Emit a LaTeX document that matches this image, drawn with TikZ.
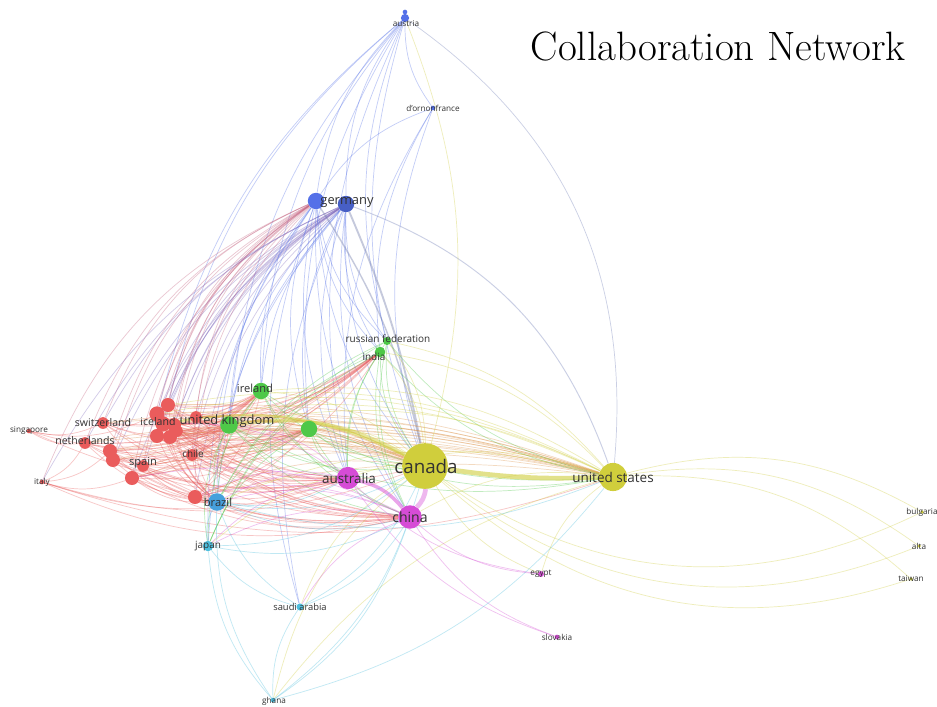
\documentclass[tikz,border=0pt]{standalone}
\usepackage{fontspec}
\setsansfont{Open Sans}
\usetikzlibrary{positioning}

\definecolor{redc}{RGB}{234,92,92}
\definecolor{greenc}{RGB}{78,200,72}
\definecolor{bluec}{RGB}{84,112,232}
\definecolor{yelc}{RGB}{208,206,60}
\definecolor{magc}{RGB}{214,76,214}
\definecolor{cyanc}{RGB}{76,190,222}
\definecolor{brazc}{RGB}{70,160,220}
\definecolor{labelgray}{RGB}{50,50,50}

\pgfdeclarelayer{edges}
\pgfsetlayers{edges,main}

\tikzset{
  country/.style={circle, inner sep=0pt, draw=none},
  cname/.style={font=\sffamily\fontsize{9}{10}\selectfont, text=labelgray, inner sep=0pt},
  bigname/.style={cname, font=\sffamily\fontsize{11.5}{13}\selectfont},
  tinyname/.style={cname, font=\sffamily\fontsize{7}{8}\selectfont},
  link/.style={line width=0.6pt, opacity=0.35, bend right=18},
}

\begin{document}
\begin{tikzpicture}[x=0.03cm, y=-0.03cm]
	\useasboundingbox (0,0) rectangle (937,706);
	\node (title) at (718,46) {\fontsize{35}{40}\selectfont Collaboration Network};

	% blue cluster
	\node (austria) [country, fill=bluec, minimum size=7] at (405,18) {};
	\node (austriab) [country, fill=bluec, minimum size=4] at (405,12) {};
	\node (dornon) [country, fill=bluec, minimum size=4] at (433,108) {};
	\node (gera) [country, fill=bluec, minimum size=14] at (316,201) {};
	\node (gerb) [country, fill=bluec!85!black, minimum size=14] at (346,204) {};
	% green cluster
	\node (russia) [country, fill=greenc, minimum size=7] at (387,341) {};
	\node (india) [country, fill=greenc, minimum size=9] at (380,352) {};
	\node (ireland) [country, fill=greenc, minimum size=14] at (261,391) {};
	\node (uk) [country, fill=greenc, minimum size=15] at (229,425) {};
	\node (greenx) [country, fill=greenc, minimum size=14] at (309,429) {};
	% red cluster
	\node (ra) [country, fill=redc, minimum size=12] at (168,405) {};
	\node (rb) [country, fill=redc, minimum size=13] at (157,414) {};
	\node (rc) [country, fill=redc, minimum size=13] at (163,424) {};
	\node (rd) [country, fill=redc, minimum size=12] at (174,425) {};
	\node (re) [country, fill=redc, minimum size=12] at (157,436) {};
	\node (rf) [country, fill=redc, minimum size=12] at (170,437) {};
	\node (rg) [country, fill=redc, minimum size=10] at (177,431) {};
	\node (rh) [country, fill=redc, minimum size=10] at (196,417) {};
	\node (switz) [country, fill=redc, minimum size=10] at (103,423) {};
	\node (neth) [country, fill=redc, minimum size=10] at (85,443) {};
	\node (ri) [country, fill=redc, minimum size=12] at (110,451) {};
	\node (rj) [country, fill=redc, minimum size=12] at (113,460) {};
	\node (spain) [country, fill=redc, minimum size=10] at (143,466) {};
	\node (rk) [country, fill=redc, minimum size=12] at (132,478) {};
	\node (chile) [country, fill=redc, minimum size=10] at (192,455) {};
	\node (rl) [country, fill=redc, minimum size=12] at (195,497) {};
	\node (italy) [country, fill=redc, minimum size=4] at (42,482) {};
	\node (singapore) [country, fill=redc, minimum size=4] at (29,431) {};
	% cyan cluster
	\node (brazil) [country, fill=brazc, minimum size=15] at (217,502) {};
	\node (japan) [country, fill=cyanc, minimum size=9] at (208,546) {};
	\node (saudi) [country, fill=cyanc, minimum size=6] at (300,607) {};
	\node (ghana) [country, fill=cyanc, minimum size=4] at (273,700) {};
	% magenta cluster
	\node (australia) [country, fill=magc, minimum size=19] at (348,478) {};
	\node (china) [country, fill=magc, minimum size=20] at (410,517) {};
	\node (egypt) [country, fill=magc, minimum size=5] at (541,574) {};
	\node (slovakia) [country, fill=magc, minimum size=4] at (557,637) {};
	% yellow cluster
	\node (canada) [country, fill=yelc, minimum size=39] at (425,466) {};
	\node (usa) [country, fill=yelc, minimum size=24] at (613,477) {};
	\node (bulgaria) [country, fill=yelc, minimum size=3] at (922,512) {};
	\node (alta) [country, fill=yelc, minimum size=3] at (919,546) {};
	\node (taiwan) [country, fill=yelc, minimum size=3] at (911,579) {};

	% labels
	\node (austrialbl) [tinyname] at (406,24) {austria};
	\node (dornonlbl) [tinyname] at (433,108) {d'ornonfrance};
	\node (germanylbl) [bigname, font=\sffamily\fontsize{11}{12}\selectfont] at (347,203) {germany};
	\node (russialbl) [cname, font=\sffamily\fontsize{8.5}{9}\selectfont] at (388,339) {russian federation};
	\node (indialbl) [cname, font=\sffamily\fontsize{8.5}{9}\selectfont] at (374,357) {india};
	\node (irelandlbl) [cname, font=\sffamily\fontsize{9.5}{10}\selectfont] at (255,388) {ireland};
	\node (uklbl) [bigname, font=\sffamily\fontsize{11}{12}\selectfont] at (227,421) {united kingdom};
	\node (icelandlbl) [cname] at (158,422) {iceland};
	\node (switzlbl) [cname] at (103,423) {switzerland};
	\node (nethlbl) [cname] at (85,441) {netherlands};
	\node (spainlbl) [cname, font=\sffamily\fontsize{9.5}{10}\selectfont] at (143,463) {spain};
	\node (chilelbl) [cname, font=\sffamily\fontsize{8.5}{9}\selectfont] at (193,454) {chile};
	\node (italylbl) [tinyname] at (42,482) {italy};
	\node (singaporelbl) [tinyname] at (29,430) {singapore};
	\node (brazillbl) [cname, font=\sffamily\fontsize{9.5}{10}\selectfont] at (218,502) {brazil};
	\node (japanlbl) [cname, font=\sffamily\fontsize{8.5}{9}\selectfont] at (208,546) {japan};
	\node (saudilbl) [cname, font=\sffamily\fontsize{8}{9}\selectfont] at (300,607) {saudi arabia};
	\node (ghanalbl) [tinyname] at (274,701) {ghana};
	\node (australialbl) [bigname] at (349,478) {australia};
	\node (chinalbl) [bigname, font=\sffamily\fontsize{12}{13}\selectfont] at (410,517) {china};
	\node (egyptlbl) [tinyname] at (541,574) {egypt};
	\node (slovakialbl) [tinyname] at (557,637) {slovakia};
	\node (canadalbl) [cname, font=\sffamily\fontsize{16}{18}\selectfont] at (426,466) {canada};
	\node (usalbl) [bigname] at (613,477) {united states};
	\node (bulgarialbl) [tinyname] at (922,512) {bulgaria};
	\node (altalbl) [tinyname] at (919,546) {alta};
	\node (taiwanlbl) [tinyname] at (911,579) {taiwan};

	\begin{pgfonlayer}{edges}
		\fill[white] (0,0) rectangle (937,706);
		% blue links
		\foreach \t in {gera,gerb,uk,rb,ra,dornon,ireland,russia,canada,australia,greenx}
			\draw[link, bluec] (austria) to (\t);
		\draw[link, bluec!50!gray] (austria) to[bend left=30] (usa);
		\foreach \t in {gera,canada,india,australia}
			\draw[link, bluec] (dornon) to (\t);
		\foreach \t in {ra,rb,rc,rd,re,rf,rg,rh,switz,neth,ri,rj,rk,spain,chile,rl,italy}
		{
			\draw[link, redc!75!bluec] (gera) to[bend right=22] (\t);
			\draw[link, bluec!70!redc] (gerb) to (\t);
		}
		\foreach \s in {gera,gerb}
			\foreach \t in {uk,ireland,greenx,india,russia,canada,australia,china,brazil,japan,saudi}
				\draw[link, bluec] (\s) to (\t);
		\draw[link, bluec!40!gray, line width=1.6pt, opacity=0.4] (gerb) to[bend left=6] (canada);
		\draw[link, bluec!40!gray, line width=1.2pt, opacity=0.4] (gera) to[bend left=10] (canada);
		\draw[link, bluec!50!gray, line width=0.8pt] (gerb) to[bend left=25] (usa);
		% red links
		\foreach \s in {ra,rb,rc,rd,re,rf,rg,rh,switz,neth,ri,rj,rk,spain,chile,rl}
		{
			\draw[link, redc!60!yelc] (\s) to[bend left=14] (canada);
			\draw[link, redc!50!yelc] (\s) to[bend left=10] (usa);
			\foreach \t in {australia,china,uk,ireland,greenx,india,brazil}
				\draw[link, redc] (\s) to (\t);
		}
		\foreach \t in {ri,rk,neth,canada,usa,china,australia}
			\draw[link, redc] (italy) to (\t);
		\foreach \t in {rb,switz,neth,canada,uk}
			\draw[link, redc] (singapore) to (\t);
		% green links
		\foreach \s in {uk,ireland,greenx,india,russia}
			\foreach \t in {canada,usa,australia,china,brazil,japan}
				\draw[link, greenc] (\s) to (\t);
		% yellow links
		\draw[link, yelc, line width=4pt, opacity=0.6] (canada) to[bend right=5] (usa);
		\draw[link, yelc, line width=3pt, opacity=0.5] (canada) to (uk);
		\draw[link, yelc, line width=2pt, opacity=0.5] (canada) to (rc);
		\foreach \t in {india,russia,ireland,greenx,egypt,japan,saudi,ghana,austria}
			\draw[link, yelc] (canada) to (\t);
		\foreach \t in {bulgaria,alta,taiwan}
		{
			\draw[link, yelc] (canada) to[bend right=30] (\t);
			\draw[link, yelc] (usa) to[bend left=22] (\t);
		}
		\foreach \t in {egypt,china,australia,uk,ireland,ra,rb,rc,brazil,ghana,india,russia}
			\draw[link, yelc] (usa) to (\t);
		% magenta links
		\draw[link, magc, line width=3pt, opacity=0.5] (china) to (australia);
		\draw[link, magc, line width=4pt, opacity=0.4] (china) to (canada);
		\foreach \t in {egypt,slovakia,brazil,japan,saudi,rl,rk}
			\draw[link, magc] (china) to (\t);
		\foreach \t in {egypt,slovakia,brazil,japan,uk,rc,rl}
			\draw[link, magc] (australia) to (\t);
		% cyan links
		\foreach \t in {japan,saudi,ghana,canada,china,australia,usa}
			\draw[link, cyanc] (brazil) to (\t);
		\foreach \t in {saudi,ghana,canada,china}
			\draw[link, cyanc] (japan) to (\t);
		\foreach \t in {ghana,china,canada}
			\draw[link, cyanc] (saudi) to (\t);
		\foreach \t in {canada,china,usa}
			\draw[link, cyanc] (ghana) to (\t);
	\end{pgfonlayer}
\end{tikzpicture}
\end{document}
